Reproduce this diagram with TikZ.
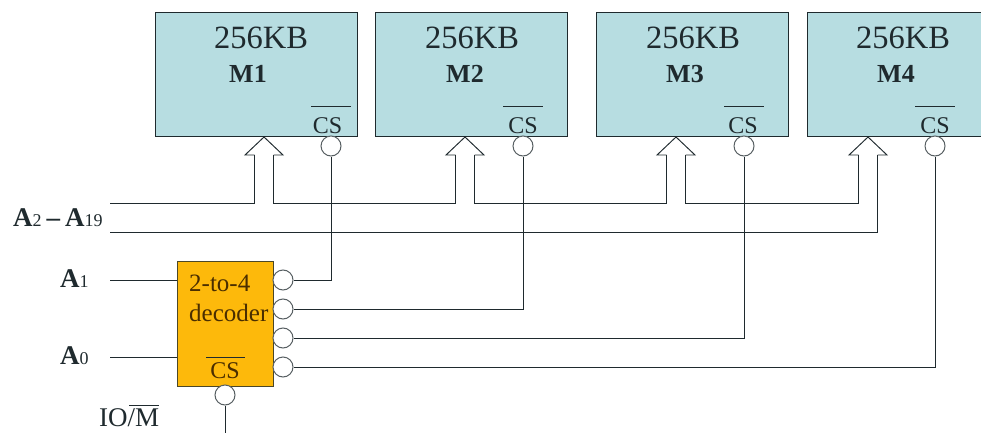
\documentclass[tikz,border=0pt]{standalone}
\usepackage{fontspec}
\setmainfont{Liberation Serif}
\definecolor{memfill}{HTML}{B7DDE1}
\definecolor{decfill}{HTML}{FDB90B}
\definecolor{ink}{HTML}{1F2A2E}
\definecolor{dectext}{HTML}{4A2E00}
\tikzset{
  membox/.style={draw=ink,line width=1.1pt,fill=memfill,rectangle,anchor=north west,inner sep=0pt,minimum height=124pt},
  decbox/.style={draw=ink!80!decfill,line width=1.1pt,fill=decfill,rectangle,anchor=north west,inner sep=0pt},
  bubble/.style={circle,draw=ink!75,line width=1pt,fill=white,minimum size=20pt,inner sep=0pt},
  wire/.style={draw=ink,line width=0.95pt,line join=miter},
  bar/.style={draw=ink,line width=1pt},
  txt/.style={text=ink,inner sep=0pt},
  big/.style={txt,font=\fontsize{32.5}{32.5}\selectfont},
  boldlab/.style={txt,font=\fontsize{26}{26}\selectfont\bfseries},
  cslab/.style={txt,font=\fontsize{24}{24}\selectfont},
  pin/.style={txt,anchor=base west},
  dectxt/.style={text=dectext,inner sep=0pt,anchor=base west,font=\fontsize{25}{25}\selectfont}
}
\newcommand{\pinA}[1]{{\fontsize{27}{27}\selectfont\bfseries A}{\fontsize{18}{18}\selectfont #1}}
\begin{document}
\begin{tikzpicture}[x=1pt,y=-1pt]
\useasboundingbox (0,0) rectangle (981,433);
\coordinate (busa) at (110,203);
\coordinate (busb) at (110,232);
\coordinate (ina) at (110,280);
\coordinate (inb) at (110,357);
\coordinate (iom) at (225,433);
% memory boxes
\node[membox,minimum width=202pt] (m1) at (155,12) {};
\node[membox,minimum width=192pt] (m2) at (375,12) {};
\node[membox,minimum width=192pt] (m3) at (596,12) {};
\node[membox,minimum width=180pt] (m4) at (807,12) {};
% memory labels, chip-select bars, bubbles
\foreach \cx/\mx/\lab/\cs/\ct/\n in {261/248/M1/331/327.5/a,472/465/M2/523/523/b,693/685/M3/744/743/c,903/896/M4/935/935/d}{
  \node[big] (kb\n) at (\cx,38) {256KB};
  \node[boldlab] (lab\n) at (\mx,74) {\lab};
  \node[cslab] (cs\n) at (\ct,126) {CS};
  \coordinate (ol\n) at (\cs-20,107);
  \coordinate (or\n) at (\cs+20,107);
  \draw[bar] (ol\n) -- (or\n);
  \node[bubble] (b\n) at (\cs,146) {};
}
% decoder
\node[decbox,minimum width=96pt,minimum height=125pt] (dec) at (177,261) {};
\node[dectxt] (dt1) at (189,291) {2-to-4};
\node[dectxt] (dt2) at (189,321) {decoder};
\node[cslab,text=dectext] (dcs) at (225,371) {CS};
\coordinate (dcl) at (206,357);
\coordinate (dcr) at (245,357);
\draw[bar] (dcl) -- (dcr);
\node[bubble] (o1) at (283,280) {};
\node[bubble] (o2) at (283,309) {};
\node[bubble] (o3) at (283,338) {};
\node[bubble] (o4) at (283,367) {};
\node[bubble] (en) at (225,395) {};
% bus arrows
\foreach \t/\n in {264/a,465/b,676/c,868/d}{
  \coordinate (tip\n) at (\t,137);
  \coordinate (hl\n) at (\t-19,155);
  \coordinate (hr\n) at (\t+19,155);
  \coordinate (sl\n) at (\t-9.5,155);
  \coordinate (sr\n) at (\t+9.5,155);
  \coordinate (dl\n) at (\t-9.5,203);
  \coordinate (dr\n) at (\t+9.5,203);
  \coordinate (el\n) at (\t+9.5,232);
  \draw[wire] (sl\n) -- (hl\n) -- (tip\n) -- (hr\n) -- (sr\n);
}
% bus wires
\draw[wire] (busa) -- (dla) -- (sla);
\draw[wire] (sra) -- (dra) -- (dlb) -- (slb);
\draw[wire] (srb) -- (drb) -- (dlc) -- (slc);
\draw[wire] (src) -- (drc) -- (dld) -- (sld);
\draw[wire] (busb) -- (eld) -- (srd);
% decoder outputs to chip selects
\draw[wire] (o1.east) -| (ba.south);
\draw[wire] (o2.east) -| (bb.south);
\draw[wire] (o3.east) -| (bc.south);
\draw[wire] (o4.east) -| (bd.south);
% decoder inputs
\draw[wire] (ina) -- (ina -| dec.west);
\draw[wire] (inb) -- (inb -| dec.west);
\draw[wire] (en.south) -- (iom);
% pin labels
\node[pin] (la) at (13,226) {\pinA{2}\kern5pt{\fontsize{27}{27}\selectfont\bfseries –}\kern5pt\pinA{19}};
\node[pin] (lb) at (60,287) {\pinA{1}};
\node[pin] (lc) at (60,364) {\pinA{0}};
\node[pin,font=\fontsize{27}{27}\selectfont] (ld) at (99,426) {IO/M};
\coordinate (mbl) at (129,405);
\coordinate (mbr) at (159,405);
\draw[bar] (mbl) -- (mbr);
\end{tikzpicture}
\end{document}
